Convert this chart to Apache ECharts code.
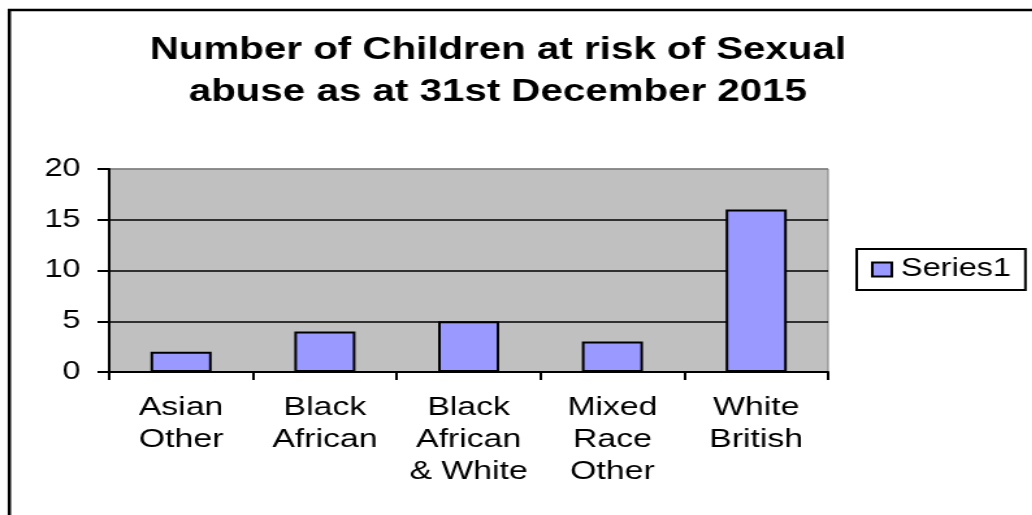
<!DOCTYPE html>
<html>
<head>
<meta charset="utf-8">
<script src="https://cdn.jsdelivr.net/npm/echarts@6/dist/echarts.min.js"></script>
<style>
html,body{margin:0;padding:0;background:#fff;overflow:hidden;width:1032px;height:515px;}
#wrap{width:1032px;height:515px;overflow:hidden;position:relative;}
#chart{width:794px;height:515px;transform:scaleX(1.3);transform-origin:0 0;position:absolute;left:0;top:0;}
</style>
</head>
<body>
<div id="wrap"><div id="chart"></div></div>
<script>
var titleText = 'Number of Children at risk of Sexual\nabuse as at 31st December 2015';
var categories = ['Asian\nOther', 'Black\nAfrican', 'Black\nAfrican\n& White', 'Mixed\nRace\nOther', 'White\nBritish'];
var seriesName = 'Series1';
var values = [2, 4, 5, 3, 16];
var yTicks = [0, 5, 10, 15, 20];

var FONT = "'Liberation Sans', Arial, sans-serif";
var chart = echarts.init(document.getElementById('chart'), null, {renderer: 'canvas'});
chart.setOption({
  animation: false,
  backgroundColor: '#ffffff',
  graphic: [{
    type: 'polyline',
    shape: {points: [[7.2, 600], [7.2, 10], [900, 10]]},
    style: {fill: null, stroke: '#000', lineWidth: 2.5},
    silent: true,
    z: -1
  }],
  title: {
    text: titleText,
    left: 378,
    top: 24,
    textAlign: 'center',
    textStyle: {fontFamily: FONT, fontWeight: 'bold', fontSize: 31, lineHeight: 42, color: '#000'}
  },
  legend: {
    data: [seriesName],
    left: 659,
    top: 249,
    orient: 'vertical',
    padding: [8, 11],
    borderColor: '#000',
    borderWidth: 2,
    backgroundColor: '#fff',
    itemWidth: 15,
    itemHeight: 14,
    itemGap: 0,
    icon: 'rect',
    textStyle: {fontFamily: FONT, fontSize: 25, color: '#000', padding: [0, 0, 0, 2]}
  },
  grid: {
    left: 84, top: 169, width: 553, height: 203,
    show: true, backgroundColor: '#C0C0C0', borderColor: '#808080', borderWidth: 1,
    containLabel: false
  },
  xAxis: {
    type: 'category',
    data: categories,
    boundaryGap: true,
    axisLine: {lineStyle: {color: '#000', width: 2}},
    axisTick: {show: true, length: 8, lineStyle: {color: '#000', width: 2}},
    axisLabel: {fontFamily: FONT, fontSize: 26, lineHeight: 32, color: '#000', margin: 20, interval: 0}
  },
  yAxis: {
    type: 'value',
    min: 0, max: 20, interval: 5,
    axisLine: {show: true, lineStyle: {color: '#000', width: 2}},
    axisTick: {show: true, length: 9, lineStyle: {color: '#000', width: 2}},
    axisLabel: {fontFamily: FONT, fontSize: 25, color: '#000', margin: 22,
      formatter: function (v) { return yTicks.indexOf(v) >= 0 ? String(v) : ''; }},
    splitLine: {show: true, lineStyle: {color: ['#000', '#000', '#000', '#000', '#808080'], width: 1.5}}
  },
  series: [{
    name: seriesName,
    type: 'bar',
    data: values,
    barWidth: '42.5%',
    itemStyle: {color: '#9999FF', borderColor: '#000', borderWidth: 2}
  }]
});
</script>
</body>
</html>
